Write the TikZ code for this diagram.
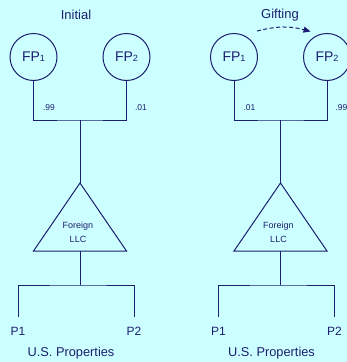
\documentclass[tikz,border=0pt]{standalone}
\usepackage{fontspec}
\setmainfont{Liberation Sans}
\usetikzlibrary{arrows.meta, positioning, calc}
\definecolor{bgcyan}{RGB}{204,255,255}
\definecolor{ink}{RGB}{28,30,112}
\newcommand{\fpnum}[1]{{\fontsize{9}{9}\selectfont #1}}

\begin{document}
\begin{tikzpicture}[x=1pt, y=-1pt,
    owner/.style={draw=ink, circle, line width=1pt, minimum size=47pt, inner sep=0pt, text=ink, font=\fontsize{14}{14}\selectfont},
    wire/.style={draw=ink, line width=1pt},
    share/.style={text=ink, inner sep=0pt, font=\fontsize{8.5}{9}\selectfont},
    head/.style={text=ink, inner sep=0pt, font=\fontsize{13}{14}\selectfont},
    prop/.style={text=ink, inner sep=0pt, font=\fontsize{12}{13}\selectfont},
    llc/.style={text=ink, inner sep=0pt, align=center, font=\fontsize{9}{14}\selectfont},
    gift/.style={draw=ink, line width=1pt, dash pattern=on 4pt off 2.5pt, -{Triangle[length=7pt, width=6pt]}}
]
\fill[bgcyan] (0,0) rectangle (347,362);
\clip (0,0) rectangle (347,362);

% initial holding
\begin{scope}
\node[head] (headL) at (76,15) {Initial};
\node[owner] (fp1L) at (33.5,57) {FP\fpnum{1}};
\node[owner] (fp2L) at (126.5,57) {FP\fpnum{2}};
\coordinate (busL) at (80,120);
\coordinate (apexL) at (80,183);
\coordinate (baseL) at (80,251);
\coordinate (hubL) at (80,285);
\draw[wire] (fp1L.south) |- (busL) -| (fp2L.south);
\node[share] at (49,108) {.99};
\node[share] at (141,108) {.01};
\draw[wire] (busL) -- (apexL);
\draw[wire] (apexL) -- ($(apexL)+(-46.5,68)$) -- ($(apexL)+(46.5,68)$) -- cycle;
\node[llc] (llcL) at (78,232) {Foreign\\LLC};
\draw[wire] (baseL) -- (hubL);
\node[prop] (p1L) at (18,331) {P1};
\node[prop] (p2L) at (134,331) {P2};
\draw[wire, shorten <=9.5pt, shorten >=9.5pt] (p1L.north) |- (hubL) -| (p2L.north);
\node[prop, font=\fontsize{12.8}{14}\selectfont] (usL) at (71,353) {U.S. Properties};
\end{scope}

% after the gift
\begin{scope}[xshift=200.5pt]
\node[head] (headR) at (79.5,15) {Gifting};
\node[owner] (fp1R) at (33.5,57) {FP\fpnum{1}};
\node[owner] (fp2R) at (126.5,57) {FP\fpnum{2}};
\coordinate (busR) at (80,120);
\coordinate (apexR) at (80,183);
\coordinate (baseR) at (80,251);
\coordinate (hubR) at (80,285);
\draw[wire] (fp1R.south) |- (busR) -| (fp2R.south);
\node[share] at (49,108) {.01};
\node[share] at (141,108) {.99};
\draw[wire] (busR) -- (apexR);
\draw[wire] (apexR) -- ($(apexR)+(-46.5,68)$) -- ($(apexR)+(46.5,68)$) -- cycle;
\node[llc] (llcR) at (78,232) {Foreign\\LLC};
\draw[wire] (baseR) -- (hubR);
\node[prop] (p1R) at (18,331) {P1};
\node[prop] (p2R) at (134,331) {P2};
\draw[wire, shorten <=9.5pt, shorten >=9.5pt] (p1R.north) |- (hubR) -| (p2R.north);
\node[prop, font=\fontsize{12.8}{14}\selectfont] (usR) at (71,353) {U.S. Properties};
\draw[gift] ([shift={(6,-9)}]fp1R.north east) to[bend left=15] ([shift={(0.5,-8.5)}]fp2R.north west);
\end{scope}

\end{tikzpicture}
\end{document}
